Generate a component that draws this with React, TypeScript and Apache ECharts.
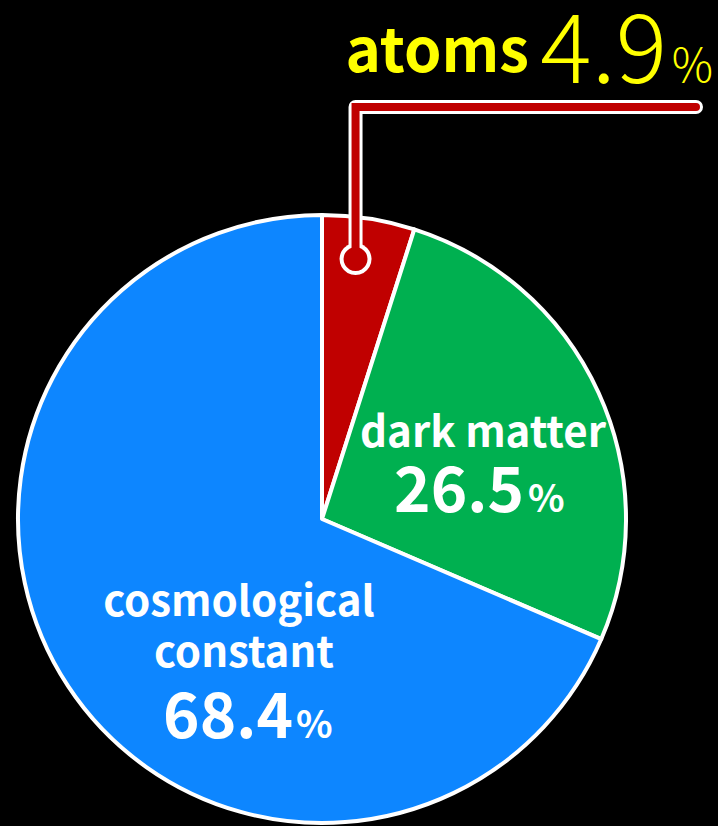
import React, { useEffect, useRef } from "react";
import * as echarts from "echarts";

// Energy content of the universe
const names = ["atoms", "dark matter", "cosmological\nconstant"];
const values = [4.9, 26.5, 68.4];
const colors = ["#C00000", "#00B050", "#0D86FF"];

const W = 718;
const H = 826;
const CX = 322;
const CY = 519;
const R = 304;
const FONT = '"Noto Sans CJK JP", "Noto Sans", sans-serif';
const YELLOW = "#FFFF00";

type Txt = {
  text: string;
  x: number;
  y: number;
  size: number;
  lh: number;
  weight: string | number;
  align: string;
  color: string;
};

function txt(t: Txt) {
  return {
    type: "text",
    x: t.x,
    y: t.y,
    z: 12,
    silent: true,
    style: {
      text: t.text,
      fill: t.color,
      font: `${t.weight} ${t.size}px ${FONT}`,
      lineHeight: t.lh,
      align: t.align,
      verticalAlign: "middle",
    },
  };
}

export default function App() {
  const ref = useRef<HTMLDivElement>(null);

  useEffect(() => {
    document.body.style.margin = "0";
    document.body.style.background = "#000";
    const chart = echarts.init(ref.current!, undefined, { renderer: "svg" });

    const total = values.reduce((a, b) => a + b, 0);
    // leader anchor sits inside the atoms wedge
    const atomsAngle = (values[0] / total) * 2 * Math.PI;
    const a = atomsAngle * 0.416;
    const ar = R * 0.862;
    const ax = CX + ar * Math.sin(a);
    const ay = CY - ar * Math.cos(a);
    const lineY = 107;
    const lineEnd = 696;
    const leader = [
      [ax, ay],
      [ax, lineY],
      [lineEnd, lineY],
    ];

    const [cosLine1, cosLine2] = names[2].split("\n");
    const texts: Txt[] = [
      // atoms callout
      { text: names[0], x: 529, y: 45, size: 60, lh: 56, weight: "bold", align: "right", color: YELLOW },
      { text: values[0].toFixed(1), x: 667, y: 41, size: 96, lh: 80, weight: 300, align: "right", color: YELLOW },
      { text: "%", x: 713, y: 62, size: 46, lh: 40, weight: 300, align: "right", color: YELLOW },
      // dark matter
      { text: names[1], x: 483, y: 428, size: 42, lh: 42, weight: "bold", align: "center", color: "#fff" },
      { text: values[1].toFixed(1), x: 524, y: 485, size: 62, lh: 54, weight: "bold", align: "right", color: "#fff" },
      { text: "%", x: 528, y: 495, size: 38, lh: 34, weight: "bold", align: "left", color: "#fff" },
      // cosmological constant
      { text: cosLine1, x: 239, y: 597, size: 42, lh: 42, weight: "bold", align: "center", color: "#fff" },
      { text: cosLine2, x: 244, y: 648, size: 42, lh: 42, weight: "bold", align: "center", color: "#fff" },
      { text: values[2].toFixed(1), x: 293, y: 711, size: 62, lh: 54, weight: "bold", align: "right", color: "#fff" },
      { text: "%", x: 296, y: 721, size: 38, lh: 34, weight: "bold", align: "left", color: "#fff" },
    ];

    chart.setOption({
      animation: false,
      backgroundColor: "#000",
      series: [
        {
          type: "pie",
          center: [CX, CY],
          radius: R,
          startAngle: 90,
          clockwise: true,
          silent: true,
          itemStyle: { borderColor: "#fff", borderWidth: 4 },
          label: { show: false },
          labelLine: { show: false },
          data: values.map((v, i) => ({
            value: v,
            name: names[i],
            itemStyle: { color: colors[i] },
          })),
        },
      ],
      graphic: [
        {
          type: "polyline",
          shape: { points: leader },
          style: { stroke: "#fff", lineWidth: 14, fill: null, lineCap: "round", lineJoin: "round" },
          z: 10,
        },
        {
          type: "circle",
          shape: { cx: ax, cy: ay, r: 16 },
          style: { fill: "#fff" },
          z: 10,
        },
        {
          type: "polyline",
          shape: { points: leader },
          style: { stroke: colors[0], lineWidth: 8, fill: null, lineCap: "round", lineJoin: "miter" },
          z: 11,
        },
        {
          type: "circle",
          shape: { cx: ax, cy: ay, r: 12 },
          style: { fill: colors[0] },
          z: 11,
        },
        ...texts.map(txt),
      ],
    });

    return () => chart.dispose();
  }, []);

  return <div ref={ref} style={{ width: W, height: H, background: "#000" }} />;
}
